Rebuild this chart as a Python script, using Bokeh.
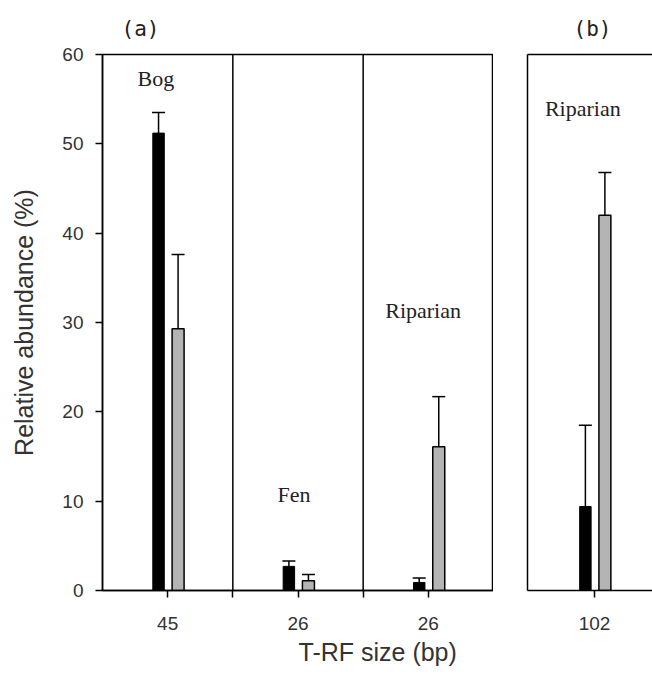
import numpy as np
from bokeh.plotting import figure
from bokeh.models import (ColumnDataSource, Range1d, FixedTicker, Whisker, TeeHead,
                          Span, Label, LinearAxis, Title)
from bokeh.layouts import row
from bokeh.embed import file_html
from bokeh.resources import INLINE

# ---------------- data ----------------
# Panel (a)
a_tick_labels = ["45", "26", "26"]
a_sites = ["Bog", "Fen", "Riparian"]
a_black = [51.2, 2.7, 0.9]
a_black_err = [2.3, 0.6, 0.5]
a_gray = [29.3, 1.1, 16.1]
a_gray_err = [8.3, 0.7, 5.6]
a_site_label_x = [0.41, 1.47, 2.46]
a_site_label_y = [57.3, 10.8, 31.3]

# Panel (b)
b_tick_labels = ["102"]
b_sites = ["Riparian"]
b_black = [9.4]
b_black_err = [9.1]
b_gray = [42.0]
b_gray_err = [4.8]
b_site_label_x = [0.41]
b_site_label_y = [54.0]

y_ticks = [0, 10, 20, 30, 40, 50, 60]
x_title = "T-RF size (bp)"
y_title = "Relative abundance (%)"
panel_titles = ["(a)", "(b)"]

GRAY = "#b4b4b4"
LW = 1.5
SANS = "Liberation Sans"
SERIF = "Liberation Serif"
MONO = "DejaVu Sans Mono"


def add_bars(p, labels, black, black_err, gray, gray_err):
    pos = np.arange(len(labels)) + 0.5
    black = np.array(black, dtype=float)
    gray = np.array(gray, dtype=float)
    src = ColumnDataSource(dict(
        xb=pos - 0.07, xg=pos + 0.08,
        black=black, gray=gray,
        black_hi=black + np.array(black_err), gray_hi=gray + np.array(gray_err),
    ))
    for xcol, lo, hi in (("xb", "black", "black_hi"), ("xg", "gray", "gray_hi")):
        p.add_layout(Whisker(source=src, base=xcol, lower=lo, upper=hi, dimension="height",
                             lower_head=None,
                             upper_head=TeeHead(size=13, line_width=LW, line_color="black"),
                             line_width=LW, line_color="black"))
    p.vbar(x="xb", top="black", bottom=0, width=0.088, source=src,
           fill_color="black", line_color="black", line_width=1)
    p.vbar(x="xg", top="gray", bottom=0, width=0.092, source=src,
           fill_color=GRAY, line_color="black", line_width=LW)


def site_labels(p, names, xs, ys, size):
    for n, x, y in zip(names, xs, ys):
        p.add_layout(Label(x=x, y=y, text=n, text_font=SERIF, text_font_size=size,
                           text_color="#222222", text_align="center", text_baseline="middle"))


def style_common(p):
    p.grid.visible = False
    p.background_fill_color = "white"
    p.border_fill_color = "white"


def style_title(t, text, offset):
    t.text = text
    t.align = "left"
    t.offset = offset
    t.text_font = MONO
    t.text_font_size = "21px"
    t.text_font_style = "normal"
    t.text_color = "#222222"
    t.standoff = 28


# ---------------- panel (a) ----------------
pa = figure(width=493, height=674, x_range=Range1d(0, 3), y_range=Range1d(0, 60),
            output_backend="svg", toolbar_location=None, title=panel_titles[0],
            min_border_left=102, min_border_right=0, min_border_top=53, min_border_bottom=84)
style_common(pa)
style_title(pa.title, panel_titles[0], 19)
pa.outline_line_color = "black"
pa.outline_line_width = LW

a_pos = list(np.arange(len(a_tick_labels)) + 0.5)
a_div = list(np.arange(1, len(a_tick_labels)).astype(float))
overrides = {float(p_): lab for p_, lab in zip(a_pos, a_tick_labels)}
overrides.update({float(d): "" for d in a_div})
pa.xaxis.ticker = FixedTicker(ticks=sorted(a_pos + a_div))
pa.xaxis.major_label_overrides = overrides

for ax in (pa.xaxis, pa.yaxis):
    ax.axis_line_width = LW
    ax.axis_line_color = "black"
    ax.major_tick_in = 0
    ax.major_tick_out = 7
    ax.major_tick_line_width = LW
    ax.minor_tick_line_color = None
    ax.major_label_text_font = SANS
    ax.major_label_text_font_size = "19px"
    ax.major_label_text_color = "#333333"
pa.xaxis.major_label_standoff = 19
pa.yaxis.major_label_standoff = 12
pa.yaxis.ticker = FixedTicker(ticks=y_ticks)
pa.yaxis.axis_label = y_title
pa.yaxis.axis_label_text_font = SANS
pa.yaxis.axis_label_text_font_size = "25px"
pa.yaxis.axis_label_text_font_style = "normal"
pa.yaxis.axis_label_text_color = "#333333"
pa.yaxis.axis_label_standoff = 21

for d in a_div:
    pa.add_layout(Span(location=d, dimension="height", line_color="black", line_width=LW))

add_bars(pa, a_tick_labels, a_black, a_black_err, a_gray, a_gray_err)
site_labels(pa, a_sites, a_site_label_x, a_site_label_y, "22px")

pa.add_layout(Title(text=x_title, align="left", offset=196, text_font=SANS,
                    text_font_size="25px", text_font_style="normal", text_color="#333333",
                    standoff=6), "below")

# ---------------- panel (b) ----------------
pb = figure(width=159, height=674, x_range=Range1d(-0.0154, 0.9462), y_range=Range1d(0, 60),
            output_backend="svg", toolbar_location=None, title=panel_titles[1],
            min_border_left=34, min_border_right=0, min_border_top=53, min_border_bottom=84)
style_common(pb)
style_title(pb.title, panel_titles[1], 46)
pb.outline_line_color = None

b_pos = list(np.arange(len(b_tick_labels)) + 0.5)
pb.xaxis.ticker = FixedTicker(ticks=b_pos)
pb.xaxis.major_label_overrides = {float(p_): lab for p_, lab in zip(b_pos, b_tick_labels)}
pb.xaxis.axis_line_width = LW
pb.xaxis.major_tick_in = 0
pb.xaxis.major_tick_out = 7
pb.xaxis.major_tick_line_width = LW
pb.xaxis.minor_tick_line_color = None
pb.xaxis.major_label_text_font = SANS
pb.xaxis.major_label_text_font_size = "19px"
pb.xaxis.major_label_text_color = "#333333"
pb.xaxis.major_label_standoff = 19

pb.yaxis.ticker = FixedTicker(ticks=[])
pb.yaxis.major_label_text_font_size = "0px"
pb.yaxis.major_tick_line_color = None
pb.yaxis.minor_tick_line_color = None
pb.yaxis.axis_line_width = LW

top_axis = LinearAxis(ticker=FixedTicker(ticks=[]), major_label_text_font_size="0px",
                      major_tick_line_color=None, minor_tick_line_color=None,
                      major_label_standoff=0, major_tick_out=0, major_tick_in=0,
                      axis_line_width=LW, axis_line_color="black")
pb.add_layout(top_axis, "above")

add_bars(pb, b_tick_labels, b_black, b_black_err, b_gray, b_gray_err)
site_labels(pb, b_sites, b_site_label_x, b_site_label_y, "22px")

layout = row(pa, pb, spacing=0)
open("out.html", "w").write(file_html(layout, INLINE))
